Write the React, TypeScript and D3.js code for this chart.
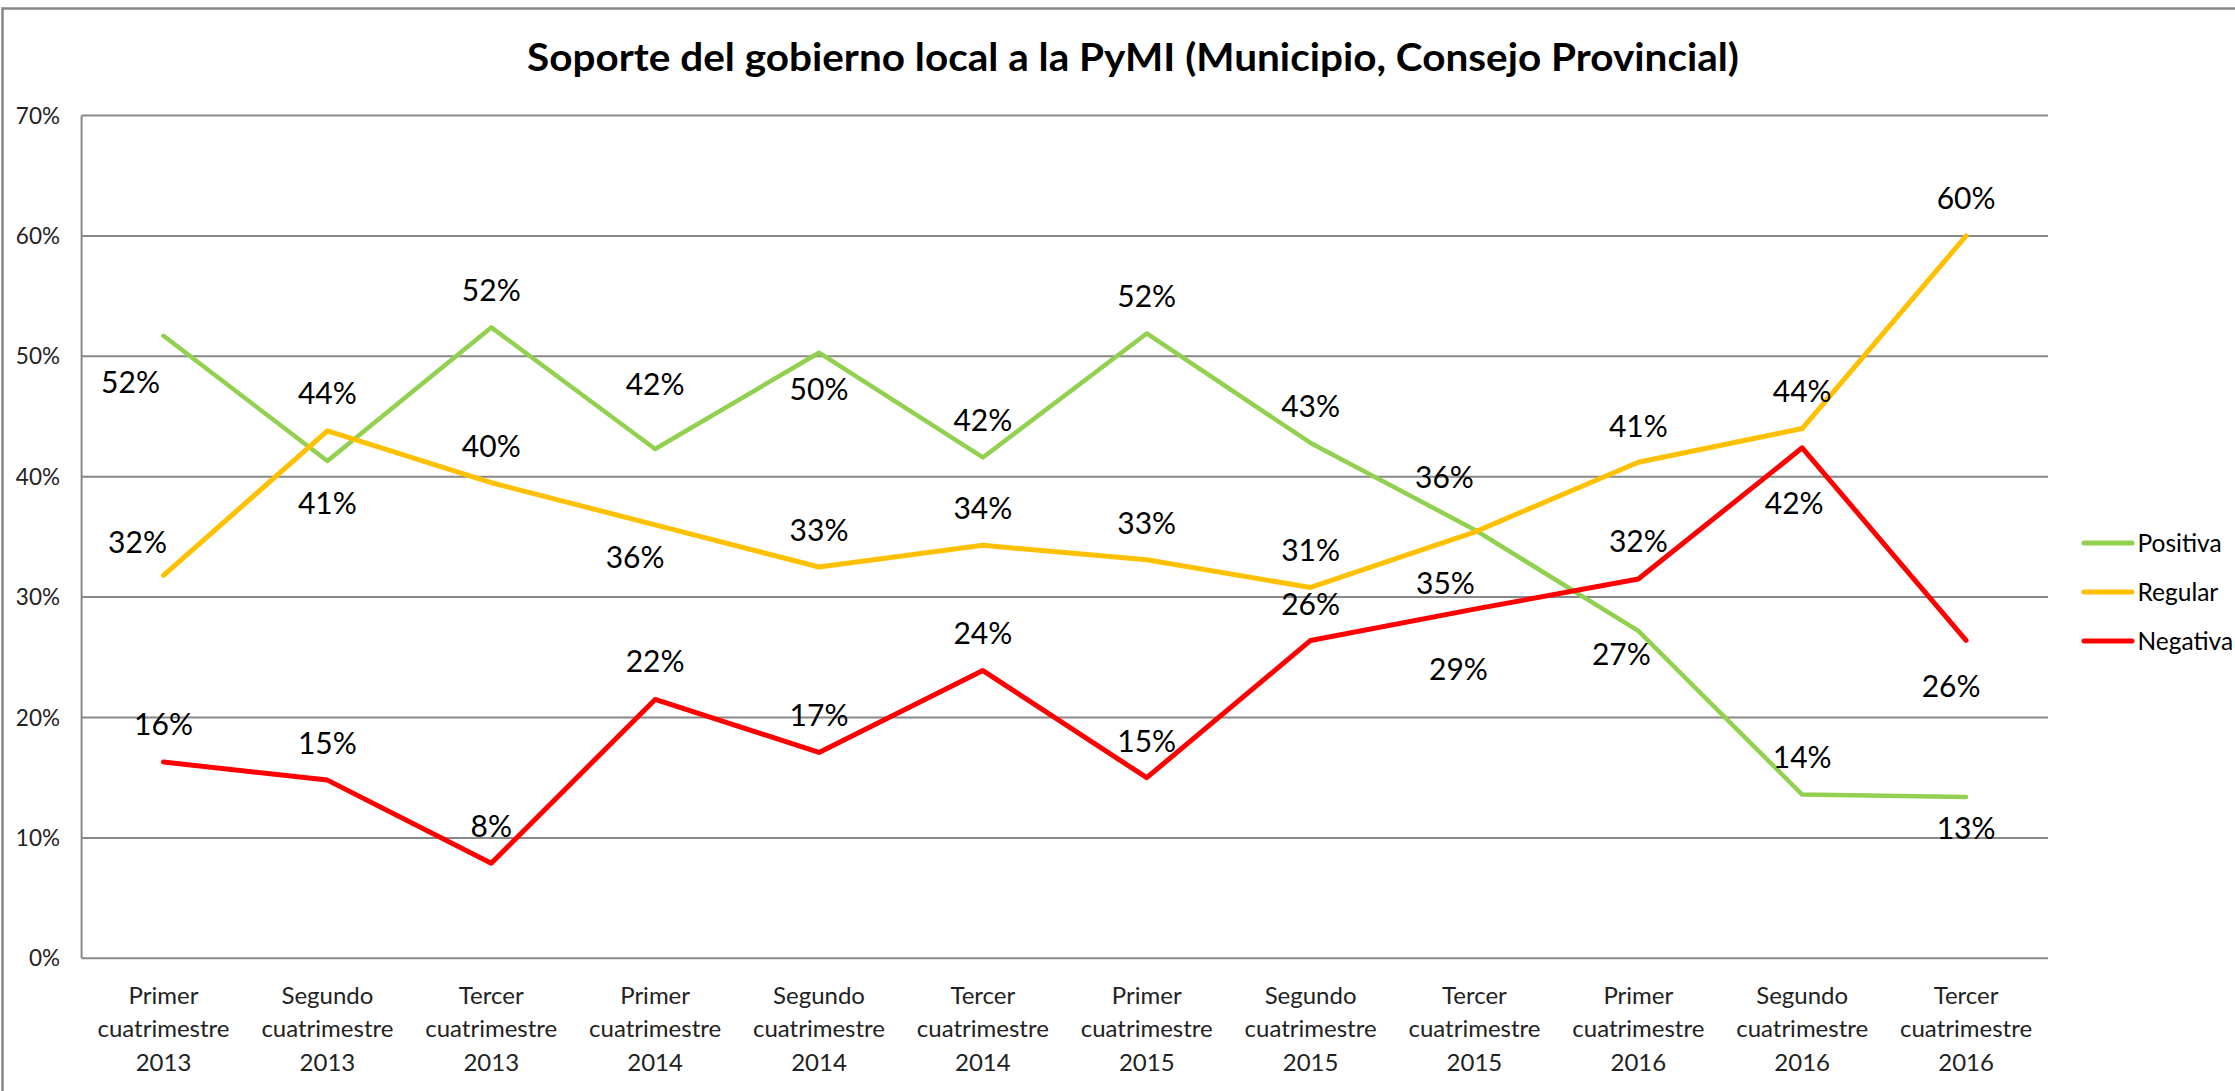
import React from 'react';
import * as d3 from 'd3';

const categories: string[][] = [
  ['Primer', 'cuatrimestre', '2013'],
  ['Segundo', 'cuatrimestre', '2013'],
  ['Tercer', 'cuatrimestre', '2013'],
  ['Primer', 'cuatrimestre', '2014'],
  ['Segundo', 'cuatrimestre', '2014'],
  ['Tercer', 'cuatrimestre', '2014'],
  ['Primer', 'cuatrimestre', '2015'],
  ['Segundo', 'cuatrimestre', '2015'],
  ['Tercer', 'cuatrimestre', '2015'],
  ['Primer', 'cuatrimestre', '2016'],
  ['Segundo', 'cuatrimestre', '2016'],
  ['Tercer', 'cuatrimestre', '2016'],
];

const seriesNames = ['Positiva', 'Regular', 'Negativa'];
const positiva = [51.7, 41.3, 52.4, 42.3, 50.3, 41.6, 51.9, 42.8, 35.6, 27.2, 13.6, 13.4];
const regular = [31.8, 43.8, 39.5, 36.0, 32.5, 34.3, 33.1, 30.8, 35.4, 41.2, 44.0, 60.0];
const negativa = [16.3, 14.8, 7.9, 21.5, 17.1, 23.9, 15.0, 26.4, 29.0, 31.5, 42.4, 26.4];
const yTicks = [0, 10, 20, 30, 40, 50, 60, 70];

const title = 'Soporte del gobierno local a la PyMI (Municipio, Consejo Provincial)';

// label placement (style): offsets of label centre from the point, in px
const labelDx = [
  [-33, 0, 0, 0, 0, 0, 0, 0, -30, -17, 0, 0],
  [-26, 0, 0, -20, 0, 0, 0, 0, -29, 0, 0, 0],
  [0, 0, 0, 0, 0, 0, 0, 0, -16, 0, -8, -15],
];
const labelDy = [
  [46, 42, -37, -65, 37, -37, -37, -37, -52, 23, -37, 31],
  [-33, -38, -37, 32, -37, -37, -37, -37, 51, -36, -37, -38],
  [-38, -37, -37, -38, -37, -37, -37, -36, 60, -38, 55, 46],
];

const colors = ['#92D050', '#FFC000', '#FF0000'];
const widths = [4.5, 5, 5];
const FONT = 'Lato, "Open Sans", "DejaVu Sans", sans-serif';

export default function App() {
  const W = 2235;
  const H = 1091;
  const plotLeft = 81.6;
  const plotRight = 2048;
  const plotTop = 115.5;
  const plotBottom = 958.3;

  const x = d3
    .scaleBand<number>()
    .domain(categories.map((_, i) => i))
    .range([plotLeft, plotRight])
    .padding(0);
  const cx = (i: number) => (x(i) as number) + x.bandwidth() / 2;
  const y = d3.scaleLinear().domain([0, 70]).range([plotBottom, plotTop]);

  const data = [positiva, regular, negativa];
  const line = d3
    .line<number>()
    .x((_, i) => cx(i))
    .y((d) => y(d));

  const dataFont = 30;
  const legendY = [543, 592, 641];

  return (
    <svg
      width={W}
      height={H}
      style={{ position: 'absolute', left: 0, top: 0, background: '#fff' }}
      fontFamily={FONT}
    >
      <rect x={0} y={0} width={W} height={H} fill="#fff" />
      <rect x={2.5} y={8.5} width={W + 50} height={H + 50} fill="none" stroke="#868686" strokeWidth={2.5} />

      <text
        x={527}
        y={71}
        fontSize={39}
        fontWeight={700}
        fill="#000"
        textLength={1212}
        lengthAdjust="spacingAndGlyphs"
      >
        {title}
      </text>

      {yTicks.map((t) => (
        <g key={t}>
          <line x1={plotLeft} x2={plotRight} y1={y(t)} y2={y(t)} stroke="#888" strokeWidth={2} />
          <text
            x={60}
            y={y(t)}
            dy="0.36em"
            textAnchor="end"
            fontSize={22.5}
            fill="#222"
          >
            {t}%
          </text>
        </g>
      ))}
      <line x1={plotLeft} x2={plotLeft} y1={plotTop} y2={plotBottom} stroke="#888" strokeWidth={2} />

      {categories.map((c, i) => (
        <g key={i}>
          {c.map((s, k) => (
            <text
              key={k}
              x={cx(i)}
              y={995 + k * 33.6}
              dy="0.36em"
              textAnchor="middle"
              fontSize={24}
              fill="#222"
            >
              {s}
            </text>
          ))}
        </g>
      ))}

      {data.map((vals, si) => (
        <path
          key={si}
          d={line(vals) || ''}
          fill="none"
          stroke={colors[si]}
          strokeWidth={widths[si]}
          strokeLinejoin="round"
          strokeLinecap="round"
        />
      ))}

      {data.map((vals, si) =>
        vals.map((v, i) => (
          <text
            key={`${si}-${i}`}
            x={cx(i) + labelDx[si][i]}
            y={y(v) + labelDy[si][i]}
            dy="0.36em"
            textAnchor="middle"
            fontSize={dataFont}
            fill="#000"
          >
            {Math.round(v)}%
          </text>
        ))
      )}

      {seriesNames.map((n, si) => (
        <g key={n}>
          <line
            x1={2084}
            x2={2132}
            y1={legendY[si]}
            y2={legendY[si]}
            stroke={colors[si]}
            strokeWidth={5}
            strokeLinecap="round"
          />
          <text x={2137.5} y={legendY[si]} dy="0.36em" fontSize={24.5} fill="#000">
            {n}
          </text>
        </g>
      ))}
    </svg>
  );
}
